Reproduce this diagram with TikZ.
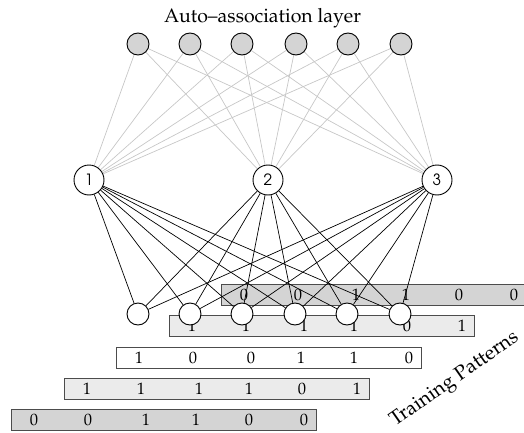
\documentclass[tikz,border=0pt]{standalone}
\usepackage[T1]{fontenc}
\usepackage{mathpazo}
\usetikzlibrary{calc}
\pgfdeclarelayer{bg}
\pgfdeclarelayer{edges}
\pgfsetlayers{bg,edges,main}
\definecolor{unitgray}{gray}{0.83}
\definecolor{rowdark}{gray}{0.83}
\definecolor{rowlight}{gray}{0.92}
\definecolor{rowedge}{gray}{0.3}
\tikzset{
  autounit/.style={circle, draw=black, line width=0.9pt, fill=unitgray, minimum size=22pt, inner sep=0pt},
  hidunit/.style={circle, draw=black, line width=0.9pt, fill=white, minimum size=30pt, inner sep=0pt,
    font=\fontfamily{pag}\fontsize{15.5}{17}\selectfont},
  inunit/.style={circle, draw=black, line width=0.9pt, fill=white, minimum size=22pt, inner sep=0pt},
  toplink/.style={draw=black!22, line width=0.7pt},
  botlink/.style={draw=black, line width=0.7pt},
  patrow/.style={rectangle, draw=rowedge, line width=0.9pt, minimum width=305pt, minimum height=20.5pt,
    inner sep=0pt, anchor=north west},
  bit/.style={inner sep=0pt, font=\fontsize{16.5}{18}\selectfont},
  lbl/.style={inner sep=0pt, font=\fontsize{19.5}{22}\selectfont}
}
\begin{document}
\begin{tikzpicture}[x=1pt,y=-1pt]
\useasboundingbox (0,0) rectangle (524,433);
\clip (0,0) rectangle (524,433);

% title
\node[lbl, anchor=base] (title) at (262.5,23) {Auto--association layer};

% auto-association units
\foreach \i/\x in {1/138,2/190,3/242,4/296,5/348,6/401}
  \node[autounit] (a\i) at (\x,44) {};

% hidden units
\node[hidunit] (h1) at (89,180) {1};
\node[hidunit] (h2) at (268,180) {2};
\node[hidunit] (h3) at (437,180) {3};

% input units
\foreach \i/\x in {1/138,2/190,3/242,4/295,5/347,6/400}
  \node[inunit] (in\i) at (\x,314) {};

% connections
\begin{pgfonlayer}{edges}
  \foreach \i in {1,...,6}
    \foreach \j in {1,2,3} {
      \draw[toplink] (a\i) -- (h\j);
      \draw[botlink] (h\j) -- (in\i);
    }
\end{pgfonlayer}

% training pattern rows
\begin{pgfonlayer}{bg}
  \foreach \r/\x/\y/\fillc/\bits in {
      1/221/284/rowdark/{0,0,1,1,0,0},
      2/169/315/rowlight/{1,1,1,1,0,1},
      3/116/347/white/{1,0,0,1,1,0},
      4/64/378/rowlight/{1,1,1,1,0,1},
      5/11/409/rowdark/{0,0,1,1,0,0}} {
    \node[patrow, fill=\fillc] (row\r) at (\x,\y) {};
    \foreach \b [count=\k] in \bits {
      \pgfmathsetmacro{\dx}{{23,77,135,185,238,293}[\k-1]}
      \node[bit] (bit\r\k) at ($(row\r.west)+(\dx pt,0)$) {\b};
    }
  }
\end{pgfonlayer}

% caption of the pattern stack
\node[lbl, rotate=35, font=\fontsize{20}{22}\selectfont] (caption) at (455,380) {Training Patterns};
\end{tikzpicture}
\end{document}
